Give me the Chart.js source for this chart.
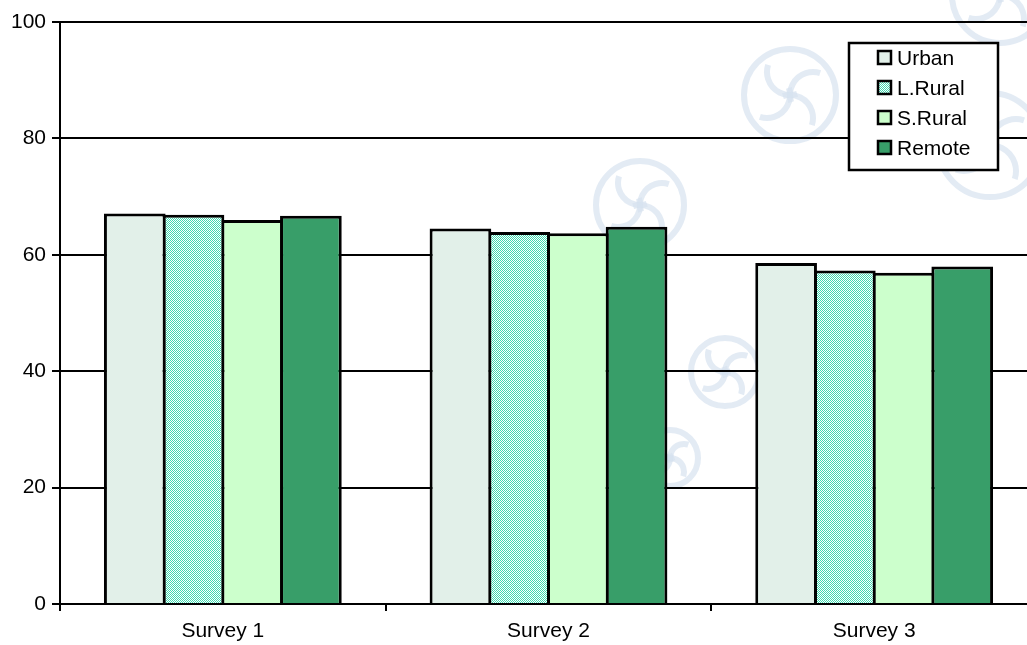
<!DOCTYPE html>
<html>
<head>
<meta charset="utf-8">
<title>Survey chart</title>
<script src="https://cdn.jsdelivr.net/npm/chart.js@4"></script>
<style>
    html, body { margin: 0; padding: 0; background: #fff; overflow: hidden; }
    #wrap { width: 1040px; height: 645px; }
</style>
</head>
<body>
<div id="wrap"><canvas id="surveyChart" width="1040" height="645"></canvas></div>
<script>
// Données
const categories = ['Survey 1', 'Survey 2', 'Survey 3'];
const seriesNames = ['Urban', 'L.Rural', 'S.Rural', 'Remote'];
const urban = [67.1, 64.5, 58.6];
const lRural = [66.9, 63.9, 57.3];
const sRural = [66.0, 63.7, 56.9];
const remote = [66.7, 64.8, 58.0];
const yTicks = [0, 20, 40, 60, 80, 100];

const FONT = '"Liberation Sans", Arial, sans-serif';

// motif damier pour L.Rural
function checker(c1, c2) {
    const p = document.createElement('canvas');
    p.width = 2;
    p.height = 2;
    const g = p.getContext('2d');
    g.fillStyle = c2;
    g.fillRect(0, 0, 2, 2);
    g.fillStyle = c1;
    g.fillRect(0, 0, 1, 1);
    g.fillRect(1, 1, 1, 1);
    return g.createPattern(p, 'repeat');
}

const colors = {
    urban: '#E2F0E9',
    lRural: checker('#3FD9B0', '#FFFFFF'),
    sRural: '#CCFFCC',
    remote: '#389E69'
};

// filigrane décoratif en fond (rosaces bleu pâle)
const watermark = {
    id: 'watermark',
    beforeDraw(chart) {
        const ctx = chart.ctx;
        const spots = [[1000, -5, 48], [790, 95, 46], [990, 145, 52], [640, 205, 44], [725, 372, 34], [670, 458, 28]];
        ctx.save();
        ctx.strokeStyle = 'rgba(215, 226, 240, 0.7)';
        ctx.lineWidth = 6;
        spots.forEach(([x, y, r]) => {
            ctx.beginPath();
            ctx.arc(x, y, r, 0, Math.PI * 2);
            ctx.stroke();
            for (let k = 0; k < 4; k++) {
                const a = k * Math.PI / 2;
                ctx.beginPath();
                ctx.arc(x + Math.cos(a) * r * 0.5, y + Math.sin(a) * r * 0.5, r * 0.5, a + Math.PI * 0.9, a + Math.PI * 1.6);
                ctx.stroke();
            }
        });
        ctx.restore();
    }
};

// légende dessinée dans la zone du graphique
const boxLegend = {
    id: 'boxLegend',
    afterDraw(chart) {
        const ctx = chart.ctx;
        const x = 849, y = 43, w = 149, h = 127;
        ctx.save();
        ctx.fillStyle = '#fff';
        ctx.fillRect(x, y, w, h);
        ctx.strokeStyle = '#000';
        ctx.lineWidth = 2.5;
        ctx.strokeRect(x, y, w, h);
        ctx.font = '21px ' + FONT;
        ctx.textBaseline = 'middle';
        chart.data.datasets.forEach((ds, i) => {
            const cy = 58 + i * 30;
            ctx.fillStyle = ds.backgroundColor;
            ctx.fillRect(878, cy - 7, 13, 13);
            ctx.lineWidth = 2.5;
            ctx.strokeRect(878, cy - 7, 13, 13);
            ctx.fillStyle = '#000';
            ctx.fillText(ds.label, 897, cy + 1);
        });
        ctx.restore();
    }
};

// barres jointives : elles se chevauchent d'une épaisseur de bordure
const datasets = [urban, lRural, sRural, remote].map((values, i) => ({
    label: seriesNames[i],
    data: values,
    backgroundColor: [colors.urban, colors.lRural, colors.sRural, colors.remote][i],
    borderColor: '#000',
    borderWidth: 3,
    categoryPercentage: 0.721,
    barPercentage: 1.051
}));

new Chart(document.getElementById('surveyChart'), {
    type: 'bar',
    data: { labels: categories, datasets: datasets },
    options: {
        responsive: false,
        animation: false,
        layout: { padding: { top: 22, right: 3, left: 0, bottom: 0 } },
        plugins: {
            legend: { display: false },
            tooltip: { enabled: false }
        },
        scales: {
            x: {
                grid: {
                    offset: true,
                    drawOnChartArea: false,
                    drawTicks: true,
                    tickLength: 7,
                    color: '#000',
                    lineWidth: 2
                },
                border: { display: true, color: '#000', width: 2 },
                ticks: { color: '#000', font: { family: FONT, size: 21 }, padding: 8 },
                afterFit(scale) { scale.height = 41; }
            },
            y: {
                min: 0,
                max: 100,
                afterBuildTicks(scale) {
                    scale.ticks = yTicks.map(v => ({ value: v }));
                },
                grid: {
                    color: '#000',
                    lineWidth: 2,
                    drawTicks: true,
                    tickLength: 8
                },
                border: { display: true, color: '#000', width: 2 },
                ticks: { color: '#000', font: { family: FONT, size: 21 }, padding: 6 },
                afterFit(scale) { scale.width = 60; }
            }
        }
    },
    plugins: [watermark, boxLegend]
});
</script>
</body>
</html>
